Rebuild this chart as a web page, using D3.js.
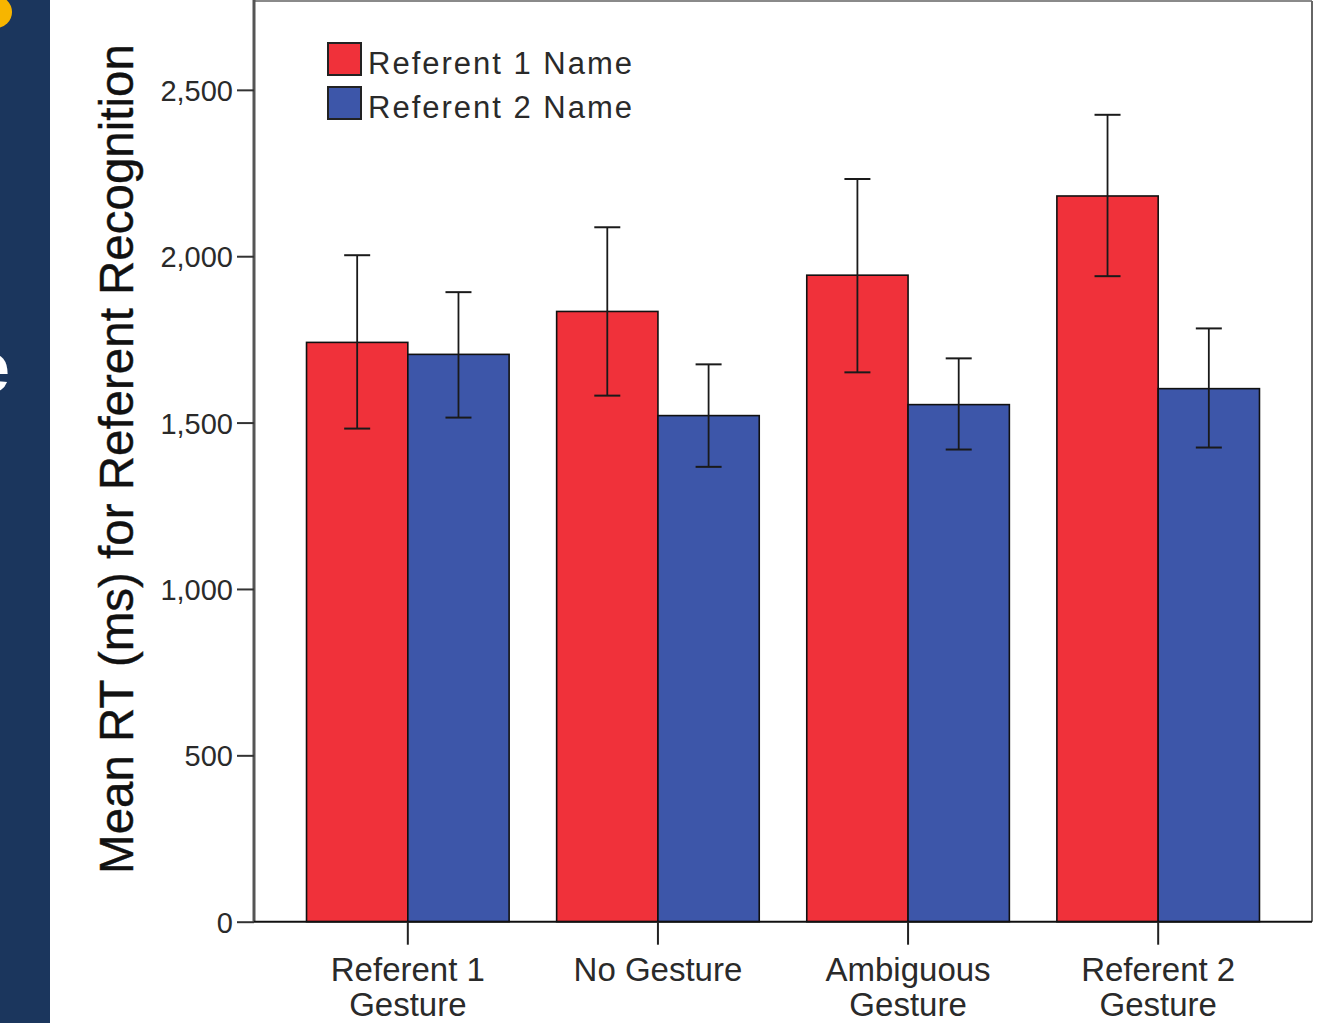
<!DOCTYPE html>
<html>
<head>
<meta charset="utf-8">
<script src="https://cdn.jsdelivr.net/npm/d3@7"></script>
<style>
  html, body { margin: 0; padding: 0; background: #fff; }
  svg { display: block; }
  text { font-family: "Liberation Sans", Arial, sans-serif; fill: #222; }
</style>
</head>
<body>
<svg id="chart" width="1325" height="1023"></svg>
<script>
// ---- data ----
const categories = ["Referent 1\nGesture", "No Gesture", "Ambiguous\nGesture", "Referent 2\nGesture"];
const seriesNames = ["Referent 1 Name", "Referent 2 Name"];
const ref1Means = [1741, 1834, 1943, 2181];
const ref1Lower = [1482, 1581, 1651, 1940];
const ref1Upper = [2003, 2087, 2232, 2425];
const ref2Means = [1705, 1521, 1554, 1602];
const ref2Lower = [1515, 1367, 1419, 1425];
const ref2Upper = [1892, 1675, 1693, 1783];
const yTicks = [0, 500, 1000, 1500, 2000, 2500];
const yTitle = "Mean RT (ms) for Referent Recognition";
const colors = ["#f0313a", "#3d56a9"];

const svg = d3.select("#chart");

// background slide strip on the left
svg.append("rect").attr("x", 0).attr("y", 0).attr("width", 50).attr("height", 1023).attr("fill", "#1b365d");
svg.append("circle").attr("cx", -4).attr("cy", 12).attr("r", 16).attr("fill", "#f7b500");
svg.append("text").attr("x", -30).attr("y", 392).attr("font-size", 72).attr("font-weight", "bold")
  .style("fill", "#ffffff").text("e");

const pL = 254, pR = 1312, pT = 1, pB = 921.7;

const x0 = d3.scaleBand().domain(categories).range([pL, pR]).paddingInner(0.19).paddingOuter(0.21);
const x1 = d3.scaleBand().domain(seriesNames).range([0, x0.bandwidth()]);
const y = d3.scaleLinear().domain([0, 2767]).range([pB, pT]);

const rows = categories.map((c, i) => ({
  cat: c,
  vals: [
    {s: seriesNames[0], m: ref1Means[i], lo: ref1Lower[i], hi: ref1Upper[i], c: colors[0]},
    {s: seriesNames[1], m: ref2Means[i], lo: ref2Lower[i], hi: ref2Upper[i], c: colors[1]}
  ]
}));

// frame (top, right)
svg.append("line").attr("x1", pL).attr("x2", pR).attr("y1", pT).attr("y2", pT)
  .attr("stroke", "#8a8a8a").attr("stroke-width", 2);
svg.append("line").attr("x1", pR).attr("x2", pR).attr("y1", pT).attr("y2", pB)
  .attr("stroke", "#666").attr("stroke-width", 2);

// bars
const g = svg.append("g").selectAll("g").data(rows).join("g")
  .attr("transform", d => `translate(${x0(d.cat)},0)`);
g.selectAll("rect").data(d => d.vals).join("rect")
  .attr("x", d => x1(d.s)).attr("width", x1.bandwidth())
  .attr("y", d => y(d.m)).attr("height", d => y(0) - y(d.m))
  .attr("fill", d => d.c).attr("stroke", "#111").attr("stroke-width", 1.6);

// error bars
const eb = g.selectAll("g.eb").data(d => d.vals).join("g").attr("class", "eb")
  .attr("transform", d => `translate(${x1(d.s) + x1.bandwidth() / 2},0)`);
eb.append("line").attr("x1", 0).attr("x2", 0).attr("y1", d => y(d.lo)).attr("y2", d => y(d.hi))
  .attr("stroke", "#1a1a1a").attr("stroke-width", 1.8);
eb.append("line").attr("x1", -13).attr("x2", 13).attr("y1", d => y(d.hi)).attr("y2", d => y(d.hi))
  .attr("stroke", "#1a1a1a").attr("stroke-width", 2);
eb.append("line").attr("x1", -13).attr("x2", 13).attr("y1", d => y(d.lo)).attr("y2", d => y(d.lo))
  .attr("stroke", "#1a1a1a").attr("stroke-width", 2);

// y axis
const yAxis = d3.axisLeft(y).tickValues(yTicks).tickSize(17).tickPadding(4)
  .tickFormat(d3.format(","));
const ya = svg.append("g").attr("transform", `translate(${pL},0)`).call(yAxis);
ya.select(".domain").attr("stroke", "#555").attr("stroke-width", 3)
  .attr("d", `M0,${pT - 1}V${pB}`);
ya.selectAll(".tick line").attr("stroke", "#333").attr("stroke-width", 2);
ya.selectAll(".tick text").attr("font-size", 29).attr("font-family", "Liberation Sans, Arial, sans-serif")
  .style("fill", "#2a2a2a").attr("dy", "0.36em");

// x axis
const xAxis = d3.axisBottom(x0).tickSize(23).tickFormat("");
const xa = svg.append("g").attr("transform", `translate(0,${pB})`).call(xAxis);
xa.select(".domain").attr("stroke", "#111").attr("stroke-width", 2)
  .attr("d", `M${pL},0H${pR}`);
xa.selectAll(".tick line").attr("stroke", "#222").attr("stroke-width", 2);
xa.selectAll(".tick").each(function(d) {
  const lines = d.split("\n");
  const t = d3.select(this).append("text").attr("text-anchor", "middle")
    .attr("font-size", 33).style("fill", "#2a2a2a");
  lines.forEach((ln, i) => {
    t.append("tspan").attr("x", 0).attr("y", 59 + i * 35).text(ln);
  });
});

// y title
svg.append("text").attr("transform", `translate(133,${459}) rotate(-90)`)
  .attr("text-anchor", "middle").attr("font-size", 47.5).style("fill", "#111")
  .attr("stroke", "#111").attr("stroke-width", 0.4)
  .text(yTitle);

// legend
const leg = svg.append("g").selectAll("g").data(seriesNames).join("g")
  .attr("transform", (d, i) => `translate(328,${43 + i * 44})`);
leg.append("rect").attr("width", 33).attr("height", 32)
  .attr("fill", (d, i) => colors[i]).attr("stroke", "#222").attr("stroke-width", 2);
leg.append("text").attr("x", 40).attr("y", 31).attr("font-size", 31)
  .attr("letter-spacing", 2).style("fill", "#2a2a2a").text(d => d);
</script>
</body>
</html>
